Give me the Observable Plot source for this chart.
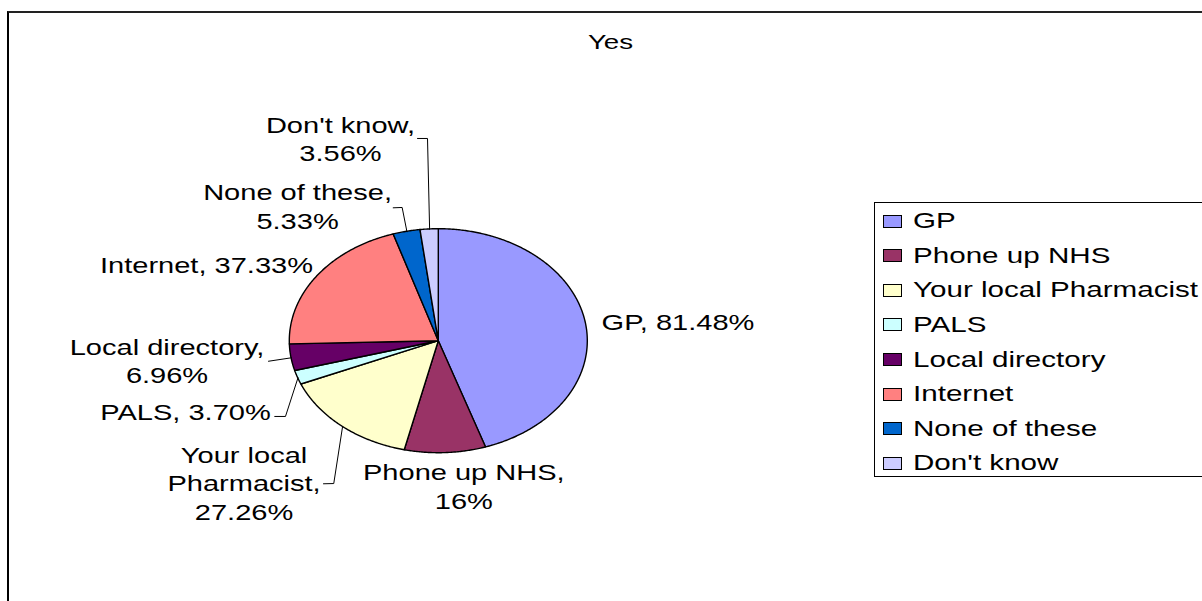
<!DOCTYPE html>
<html><head><meta charset="utf-8">
<script src="https://cdn.jsdelivr.net/npm/d3@7"></script>
<script src="https://cdn.jsdelivr.net/npm/@observablehq/plot@0.6"></script>
<style>
body{margin:0;background:#fff;overflow:hidden;font-family:"Liberation Sans",Arial,sans-serif;}
#wrap{position:relative;width:1202px;height:601px;overflow:hidden;background:#fff;}
#chart{position:absolute;left:0;top:0;}
#border{position:absolute;left:7px;top:11px;width:1400px;height:800px;border-left:2px solid #000;border-top:2px solid #222;pointer-events:none;}
#legend{position:absolute;left:874px;top:201.5px;width:400px;height:275px;border:1px solid #000;box-sizing:border-box;padding-top:1.5px;background:#fff;}
.row{height:34.57px;display:flex;align-items:center;}
.sw{box-sizing:border-box;width:18.4px;height:13px;border:1.5px solid #000;margin-left:8.3px;flex:none;}
.lt{font-size:22px;transform:scaleX(1.345);transform-origin:left center;margin-left:11.6px;white-space:nowrap;color:#000;line-height:1;}
</style>
</head><body>
<div id="wrap"><div id="chart"></div><div id="border"></div><div id="legend"></div></div>
<script>
// ---- data ----
const categories = ["GP","Phone up NHS","Your local Pharmacist","PALS","Local directory","Internet","None of these","Don't know"];
const values = [81.48, 16, 27.26, 3.70, 6.96, 37.33, 5.33, 3.56];
const colors = ["#9999FF","#993366","#FFFFCC","#CCFFFF","#660066","#FF8080","#0066CC","#CCCCFF"];
const labelTexts = [
  "GP, 81.48%",
  "Phone up NHS,\n16%",
  "Your local\nPharmacist,\n27.26%",
  "PALS, 3.70%",
  "Local directory,\n6.96%",
  "Internet, 37.33%",
  "None of these,\n5.33%",
  "Don't know,\n3.56%"
];
const title = "Yes";

// ---- layout (pie-unit coordinates) ----
const labelPos = [[1.605,0.167],[0.168,-1.306],[-1.307,-1.279],[-1.70,-0.645],[-1.824,-0.182],[-1.559,0.676],[-0.948,1.194],[-0.66,1.80]];
const leaderStart = {2:[[-0.774,-1.273],[-0.705,-1.271]],3:[[-1.101,-0.672],[-1.029,-0.672]],4:[[-1.143,-0.179]],6:[[-0.306,1.191],[-0.246,1.194]],7:[[-0.143,1.810],[-0.0758,1.810]]};

const cx = 438.3, cy = 340.7, rx = 149, ry = 112;

const arcs = d3.pie().sort(null).value(d => d)(values);
const slicePts = [];
arcs.forEach((a, i) => {
  const n = Math.max(2, Math.ceil((a.endAngle - a.startAngle) / (Math.PI / 360)));
  for (let k = 0; k <= n; k++) {
    const t = a.startAngle + (a.endAngle - a.startAngle) * k / n;
    slicePts.push({name: categories[i], u: Math.sin(t), v: Math.cos(t)});
  }
});
const labels = categories.map((c, i) => ({name: c, text: labelTexts[i], u: labelPos[i][0], v: labelPos[i][1]}));
const leaders = [];
Object.entries(leaderStart).forEach(([i, pts]) => {
  i = +i;
  pts.forEach(p => leaders.push({name: categories[i], u: p[0], v: p[1]}));
  const m = (arcs[i].startAngle + arcs[i].endAngle) / 2;
  leaders.push({name: categories[i], u: Math.sin(m), v: Math.cos(m)});
});

const plot = Plot.plot({
  width: 1202, height: 601, margin: 0,
  style: {fontFamily: "'Liberation Sans', Arial, sans-serif", background: "transparent", color: "#000"},
  x: {domain: [-1, 1], range: [cx - rx, cx + rx], axis: null},
  y: {domain: [-1, 1], range: [cy + ry, cy - ry], axis: null},
  color: {domain: categories, range: colors},
  marks: [
    Plot.area(slicePts, {x1: "u", y1: "v", x2: 0, y2: 0, z: "name", fill: "name", stroke: "#000", strokeWidth: 1.4, strokeLinejoin: "round"}),
    Plot.line(leaders, {x: "u", y: "v", z: "name", stroke: "#000", strokeWidth: 1}),
    Plot.text(labels, {x: "u", y: "v", text: "text", fontSize: 22, lineHeight: 1.28, fill: "#000", textAnchor: "middle", dy: -2}),
    Plot.text([title], {frameAnchor: "top", dx: 9, dy: 42, lineAnchor: "middle", fontSize: 21, fill: "#000"})
  ]
});
plot.querySelectorAll('g[aria-label="text"] text').forEach(t => {
  t.setAttribute("transform", ((t.getAttribute("transform") || "") + " scale(1.32,1)").trim());
});
document.getElementById("chart").appendChild(plot);

const legend = document.getElementById("legend");
categories.forEach((c, i) => {
  const row = document.createElement("div"); row.className = "row";
  const sw = document.createElement("div"); sw.className = "sw"; sw.style.background = colors[i];
  const lt = document.createElement("div"); lt.className = "lt"; lt.textContent = c;
  row.appendChild(sw); row.appendChild(lt); legend.appendChild(row);
});
</script>
</body></html>
